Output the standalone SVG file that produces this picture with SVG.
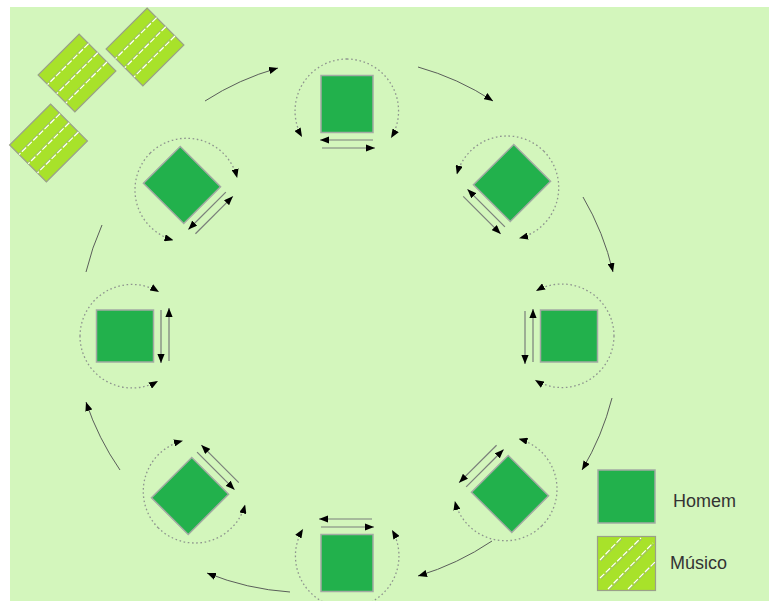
<svg xmlns="http://www.w3.org/2000/svg" xmlns:xlink="http://www.w3.org/1999/xlink" width="769" height="601" viewBox="0 0 769 601">
<style>
.homem{fill:#22b14c;stroke:#a3aaa3;stroke-width:1.5}
.musico{fill:#a8e22a;stroke:#9aa08a;stroke-width:1.2}
.stripe{stroke:#ffffff;stroke-width:1.2;stroke-dasharray:6 2}
.stripe2{stroke:#9aa59a;stroke-width:0.8}
.dot{fill:none;stroke:#8e948e;stroke-width:1.3;stroke-dasharray:1.6 2.6}
.dir{fill:none;stroke:#7a7f7a;stroke-width:1.2}
.big{fill:none;stroke:#5a5e5a;stroke-width:1}
.lbl{font-family:"Liberation Sans",Arial,sans-serif;font-size:18px;fill:#333}
</style>
<defs>
<marker id="ah" viewBox="0 0 10 8" refX="10" refY="4" markerWidth="9" markerHeight="7.2" markerUnits="userSpaceOnUse" orient="auto">
<path d="M0,0 L10,4 L0,8 z" fill="#000"/>
</marker>
<g id="man">
<rect class="homem" x="-26" y="-28.5" width="52" height="57"/>
<path class="dot" d="M0,-45 A52,52 0 0 0 -45,33" marker-end="url(#ah)"/>
<path class="dot" d="M0,-45 A52,52 0 0 1 44,34" marker-end="url(#ah)"/>
<path class="dir" d="M26,36 H-27" marker-end="url(#ah)"/>
<path class="dir" d="M-25,44 H28" marker-end="url(#ah)"/>
</g>
<g id="mus">
<rect class="musico" x="-26" y="-29" width="52" height="58"/>
<path class="stripe2" d="M-13.8,-29 V29 M-0.8,-29 V29 M12.2,-29 V29"/>
<path class="stripe" d="M-12.6,-29 V29 M0.4,-29 V29 M13.4,-29 V29"/>
</g>
</defs>
<rect x="10" y="7" width="759" height="594" fill="#d3f6bc"/>

<g id="musico-1" transform="translate(145,47) rotate(45)"><use xlink:href="#mus"/></g>
<g id="musico-2" transform="translate(77,73) rotate(45)"><use xlink:href="#mus"/></g>
<g id="musico-3" transform="translate(48.5,143) rotate(45)"><use xlink:href="#mus"/></g>

<g id="connectors">
<path class="big" d="M205,101 A270,270 0 0 1 278,68" marker-end="url(#ah)"/>
<path class="big" d="M418,67 A270,270 0 0 1 493,101" marker-end="url(#ah)"/>
<path class="big" d="M583,197 A270,270 0 0 1 613,272" marker-end="url(#ah)"/>
<path class="big" d="M612,398 A270,270 0 0 1 582,470" marker-end="url(#ah)"/>
<path class="big" d="M492,541 A270,270 0 0 1 418,576" marker-end="url(#ah)"/>
<path class="big" d="M290,592 A270,270 0 0 1 207,573" marker-end="url(#ah)"/>
<path class="big" d="M120,470 A270,270 0 0 1 86,402" marker-end="url(#ah)"/>
<path class="big" d="M86,272 A270,270 0 0 1 102,225"/>
</g>

<g id="homem-top" transform="translate(347,104)"><use xlink:href="#man"/></g>
<g id="homem-top-right" transform="translate(512,183) rotate(45)"><use xlink:href="#man"/></g>
<g id="homem-right" transform="translate(569,336) rotate(90)"><use xlink:href="#man"/></g>
<g id="homem-bottom-right" transform="translate(510,494) rotate(135)"><use xlink:href="#man"/></g>
<g id="homem-bottom" transform="translate(347,563) rotate(180)"><use xlink:href="#man"/></g>
<g id="homem-bottom-left" transform="translate(190,496) rotate(225)"><use xlink:href="#man"/></g>
<g id="homem-left" transform="translate(125,336) rotate(270)"><use xlink:href="#man"/></g>
<g id="homem-top-left" transform="translate(182,185) rotate(315)"><use xlink:href="#man"/></g>

<g id="legend">
<rect class="homem" x="598" y="470" width="57" height="53"/>
<text class="lbl" x="673" y="507">Homem</text>
<g id="legend-musico">
<rect class="musico" x="597.5" y="536.5" width="58" height="54"/>
<path class="stripe2" d="M601,561 L622,539 M601,579 L642,539 M609,590 L654,544 M629,590 L655,563"/>
<path class="stripe" d="M600,560 L621,538 M600,578 L641,538 M608,589 L653,543 M628,589 L655,562"/>
</g>
<text class="lbl" x="670" y="569">Músico</text>
</g>
</svg>
